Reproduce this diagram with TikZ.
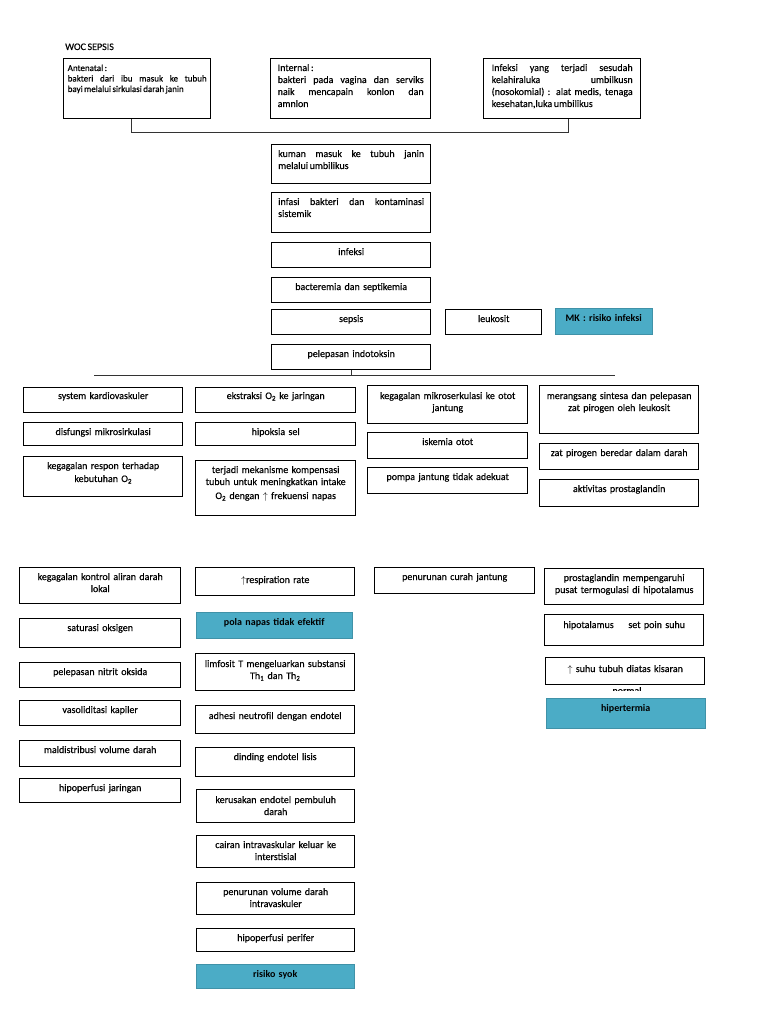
\documentclass[tikz,border=0pt]{standalone}
\usepackage{fontspec}
\setmainfont{Carlito}[WordSpace=0.7,UprightFeatures={FakeBold=0.4}]
\usetikzlibrary{shadows}
\definecolor{aqua}{RGB}{75,172,198}

\begin{document}
\begin{tikzpicture}[x=1pt,y=-1pt,
  box/.style={draw,line width=1.4pt,anchor=north west,inner sep=0pt},
  mk box/.style={anchor=north west,inner sep=0pt,fill=aqua,draw=aqua!85!black,line width=0.4pt,
    drop shadow={shadow xshift=1.2pt,shadow yshift=-1.2pt,fill=black!45,opacity=.6}},
  tx/.style={anchor=base,align=center,text width=152pt,inner sep=0pt,yshift=-13pt,font=\fontsize{10}{12}\selectfont},
  conn/.style={line width=0.8pt,draw=black!80}]

  \useasboundingbox (0,0) rectangle (768,1024);

  \node[anchor=base west,inner sep=0pt,font=\fontsize{10}{12}\selectfont] (0) at (65,50) {WOC SEPSIS};

  % sumber infeksi
  \node[box,minimum width=147,minimum height=60,
    label={[tx,align=justify,text width=139pt,font=\fontsize{9}{10.5}\selectfont]north:Antenatal :\\bakteri dari ibu masuk ke tubuh\linebreak bayi melalui sirkulasi darah janin}] (1) at (63,58) {};
  \node[box,minimum width=160,minimum height=60,
    label={[tx,align=justify,text width=146pt]north:Internal :\\bakteri pada vagina dan serviks\linebreak naik mencapain konlon dan\linebreak amnlon}] (2) at (270,58) {};
  \node[box,minimum width=157,minimum height=60,
    label={[tx,align=justify,text width=141pt]north:Infeksi yang terjadi sesudah\linebreak kelahiraluka umbilkusn\linebreak (nosokomial) : alat medis, tenaga\linebreak kesehatan,luka umbilikus}] (3) at (483,58) {};

  % kolom tengah
  \node[box,minimum width=159,minimum height=39,
    label={[tx,align=justify,text width=146pt]north:kuman masuk ke tubuh janin\linebreak melalui umbilikus}] (4) at (271,144) {};
  \node[box,minimum width=159,minimum height=40,
    label={[tx,align=justify,text width=146pt]north:infasi bakteri dan kontaminasi\linebreak sistemik}] (5) at (271,192) {};
  \node[box,minimum width=159,minimum height=25,label={[tx]north:infeksi}] (6) at (271,242) {};
  \node[box,minimum width=159,minimum height=25,label={[tx]north:bacteremia dan septikemia}] (7) at (271,277) {};
  \node[box,minimum width=159,minimum height=25,label={[tx]north:sepsis}] (8) at (271,309) {};
  \node[box,minimum width=96,minimum height=25,label={[tx,text width=90pt]north:leukosit}] (9) at (445,309) {};
  \node[mk box,minimum width=97,minimum height=26,label={[tx,text width=92pt,font=\fontsize{10}{12}\selectfont\bfseries]north:MK : risiko infeksi}] (10) at (555,308) {};
  \node[box,minimum width=159,minimum height=25,label={[tx]north:pelepasan indotoksin}] (11) at (271,344) {};

  % baris kedua
  \node[box,minimum width=159,minimum height=25,label={[tx,yshift=1pt]north:system kardiovaskuler}] (12) at (23,387) {};
  \node[box,minimum width=159,minimum height=23,label={[tx]north:disfungsi mikrosirkulasi}] (13) at (23,422) {};
  \node[box,minimum width=159,minimum height=40,label={[tx]north:kegagalan respon terhadap\\[1pt]kebutuhan O\textsubscript{2}}] (14) at (23,456) {};

  \node[box,minimum width=160,minimum height=25,label={[tx,yshift=1pt]north:ekstraksi O\textsubscript{2} ke jaringan}] (15) at (195,387) {};
  \node[box,minimum width=160,minimum height=23,label={[tx]north:hipoksia sel}] (16) at (195,422) {};
  \node[box,minimum width=160,minimum height=55,label={[tx]north:terjadi mekanisme kompensasi\\tubuh untuk meningkatkan intake\\[2pt]O\textsubscript{2} dengan $\uparrow$ frekuensi napas}] (17) at (195,460) {};

  \node[box,minimum width=160,minimum height=38,label={[tx,yshift=-1pt]north:kegagalan mikroserkulasi ke otot\\jantung}] (18) at (367,385) {};
  \node[box,minimum width=160,minimum height=26,label={[tx]north:iskemia otot}] (19) at (367,432) {};
  \node[box,minimum width=160,minimum height=26,label={[tx]north:pompa jantung tidak adekuat}] (20) at (367,467) {};

  \node[box,minimum width=159,minimum height=48,label={[tx,yshift=-1pt]north:merangsang sintesa dan pelepasan\\zat pirogen oleh leukosit}] (21) at (539,385) {};
  \node[box,minimum width=159,minimum height=26,label={[tx]north:zat pirogen beredar dalam darah}] (22) at (539,443) {};
  \node[box,minimum width=159,minimum height=27,label={[tx]north:aktivitas prostaglandin}] (23) at (539,479) {};

  % bagian bawah
  \node[box,minimum width=161,minimum height=36,label={[tx]north:kegagalan kontrol aliran darah\\lokal}] (24) at (19,567) {};
  \node[box,minimum width=161,minimum height=29,label={[tx]north:saturasi oksigen}] (25) at (19,618) {};
  \node[box,minimum width=161,minimum height=25,label={[tx]north:pelepasan nitrit oksida}] (26) at (19,662) {};
  \node[box,minimum width=161,minimum height=25,label={[tx]north:vasoliditasi kapiler}] (27) at (19,700) {};
  \node[box,minimum width=161,minimum height=26,label={[tx]north:maldistribusi volume darah}] (28) at (19,740) {};
  \node[box,minimum width=161,minimum height=24,label={[tx]north:hipoperfusi jaringan}] (29) at (19,778) {};

  \node[box,minimum width=159,minimum height=28,label={[tx,yshift=-3pt]north:$\uparrow$respiration rate}] (30) at (195,567) {};
  \node[mk box,minimum width=156,minimum height=26,label={[tx,font=\fontsize{10}{12}\selectfont\bfseries]north:pola napas tidak efektif}] (31) at (196,612) {};
  \node[box,minimum width=159,minimum height=37,label={[tx,yshift=-1pt]north:limfosit T mengeluarkan substansi\\Th\textsubscript{1} dan Th\textsubscript{2}}] (32) at (195,653) {};
  \node[box,minimum width=159,minimum height=28,label={[tx,yshift=-1pt]north:adhesi neutrofil dengan endotel}] (33) at (195,705) {};
  \node[box,minimum width=159,minimum height=29,label={[tx]north:dinding endotel lisis}] (34) at (195,747) {};
  \node[box,minimum width=158,minimum height=33,label={[tx,yshift=-1pt]north:kerusakan endotel pembuluh\\darah}] (35) at (196,789) {};
  \node[box,minimum width=158,minimum height=32,label={[tx]north:cairan intravaskular keluar ke\\interstisial}] (36) at (196,835) {};
  \node[box,minimum width=158,minimum height=32,label={[tx]north:penurunan volume darah\\intravaskuler}] (37) at (196,882) {};
  \node[box,minimum width=158,minimum height=23,label={[tx]north:hipoperfusi perifer}] (38) at (196,928) {};
  \node[mk box,minimum width=158,minimum height=24,label={[tx,font=\fontsize{10}{12}\selectfont\bfseries]north:risiko syok}] (39) at (196,964) {};

  \node[box,minimum width=160,minimum height=26,label={[tx]north:penurunan curah jantung}] (40) at (374,567) {};

  \node[box,minimum width=159,minimum height=36,label={[tx]north:prostaglandin mempengaruhi\\pusat termogulasi di hipotalamus}] (41) at (544,568) {};
  \node[box,minimum width=159,minimum height=31,label={[tx,yshift=-1pt]north:hipotalamus \hspace{8pt} set poin suhu}] (42) at (544,614) {};
  \node[box,minimum width=159,minimum height=27,label={[tx,yshift=-2pt]north:$\uparrow$ suhu tubuh diatas kisaran}] (43) at (545,657) {};
  \begin{scope}
    \clip (545,686) rectangle (704,690);
    \node[anchor=base,inner sep=0pt,font=\fontsize{10}{12}\selectfont] (44) at (627,694) {normal};
  \end{scope}
  \node[mk box,minimum width=159,minimum height=30,label={[tx,font=\fontsize{10}{12}\selectfont\bfseries]north:hipertermia}] (45) at (546,698) {};

  % garis penghubung
  \coordinate (a) at (94,375);
  \coordinate (b) at (615,375);
  \draw[conn] ([xshift=-6pt]1.south) -- ++(0,13) -| ([xshift=6pt]3.south);
  \draw[conn] (a) -- (b);
  \draw[conn] (11.south) -- (11.south |- a);

\end{tikzpicture}
\end{document}
